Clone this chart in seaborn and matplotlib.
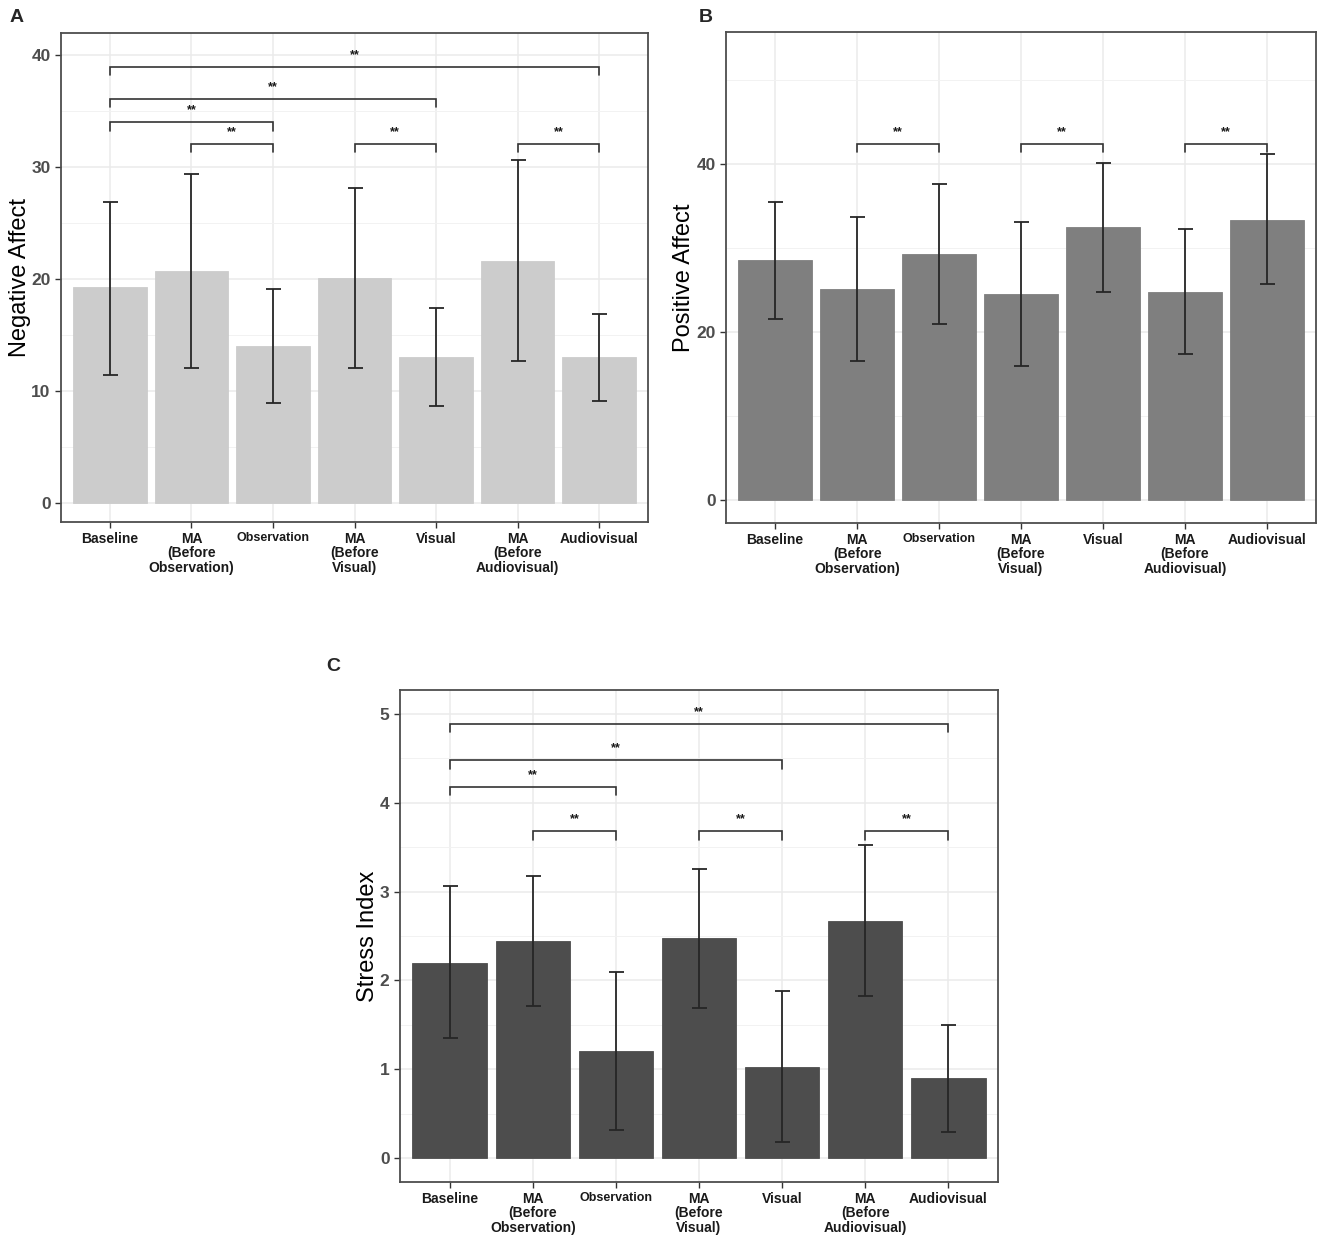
import numpy as np
import seaborn as sns
import matplotlib.pyplot as plt
from matplotlib.ticker import MultipleLocator

sns.set_theme(style="white")
plt.rcParams['font.family'] = ['Liberation Sans Narrow', 'Liberation Sans', 'DejaVu Sans']

# categories (x-axis)
conditions = ["Baseline", "MA\n(Before\nObservation)", "Observation",
              "MA\n(Before\nVisual)", "Visual", "MA\n(Before\nAudiovisual)", "Audiovisual"]

# Panel A - Negative affect: mean, lower and upper error
neg_mean = [19.3, 20.7, 14.0, 20.1, 13.0, 21.6, 13.0]
neg_low = [11.4, 12.0, 8.9, 12.0, 8.65, 12.7, 9.07]
neg_high = [26.9, 29.4, 19.1, 28.1, 17.4, 30.6, 16.9]
neg_sig = [(0, 6, 38.97), (0, 4, 36.1), (0, 2, 34.0), (1, 2, 32.1), (3, 4, 32.1), (5, 6, 32.1)]

# Panel B - Positive affect
pos_mean = [28.6, 25.1, 29.3, 24.5, 32.5, 24.8, 33.3]
pos_low = [21.6, 16.6, 20.95, 15.9, 24.8, 17.4, 25.7]
pos_high = [35.5, 33.7, 37.6, 33.1, 40.1, 32.2, 41.2]
pos_sig = [(1, 2, 42.4), (3, 4, 42.4), (5, 6, 42.4)]

# Panel C - Stress index
stress_mean = [2.20, 2.44, 1.20, 2.48, 1.03, 2.67, 0.90]
stress_low = [1.35, 1.71, 0.32, 1.69, 0.18, 1.82, 0.29]
stress_high = [3.06, 3.18, 2.09, 3.26, 1.88, 3.52, 1.50]
stress_sig = [(0, 6, 4.89), (0, 4, 4.48), (0, 2, 4.18), (1, 2, 3.68), (3, 4, 3.68), (5, 6, 3.68)]

W, H = 1325, 1253
fig = plt.figure(figsize=(W / 100, H / 100), dpi=100)


def px_axes(l, t, r, b):
    return fig.add_axes([l / W, 1 - b / H, (r - l) / W, (b - t) / H])


def draw_panel(ax, mean, low, high, color, ylabel, ylim, major, sig, lab_x):
    df = {"cond": conditions, "val": mean}
    ax.set_axisbelow(True)
    sns.barplot(x="cond", y="val", data=df, color=color, width=0.9,
                saturation=1, edgecolor=color, linewidth=0.6, ax=ax)
    m = np.array(mean)
    ax.errorbar(np.arange(len(m)), m, yerr=[m - np.array(low), np.array(high) - m],
                fmt="none", ecolor="#262626", elinewidth=1.3, capsize=5.4, capthick=1.3,
                zorder=5)
    ax.set_xlim(-0.6, 6.6)
    ax.set_ylim(*ylim)
    ax.yaxis.set_major_locator(MultipleLocator(major))
    ax.yaxis.set_minor_locator(MultipleLocator(major / 2))
    ax.grid(which="major", color="#EBEBEB", linewidth=1.1)
    ax.grid(which="minor", axis="y", color="#F2F2F2", linewidth=0.7)
    for s in ax.spines.values():
        s.set_color("#4D4D4D")
        s.set_linewidth(1.3)
    ax.tick_params(axis="both", which="major", length=4, width=1, color="#333333",
                   direction="out", bottom=True, left=True)
    ax.tick_params(axis="y", labelsize=12.5, labelcolor="#4D4D4D")
    ax.tick_params(axis="x", labelsize=10, labelcolor="#1A1A1A", pad=3)
    ax.tick_params(which="minor", length=0)
    for t in ax.get_yticklabels():
        t.set_fontweight("bold")
    for t in ax.get_xticklabels():
        t.set_fontweight("bold")
        t.set_linespacing(1.05)
        t.set_verticalalignment("top")
        if t.get_text() == "Observation":
            t.set_fontsize(9)
    ax.set_xlabel("")
    ax.set_ylabel(ylabel, fontsize=17, color="black",
                  family=["Liberation Sans", "DejaVu Sans"])
    ax.yaxis.set_label_coords(lab_x, 0.5)
    rng = ylim[1] - ylim[0]
    tip = 0.017 * rng
    for i, j, h in sig:
        ax.plot([i, i, j, j], [h - tip, h, h, h - tip], color="#333333", lw=1.2,
                solid_joinstyle="miter", zorder=6)
        ax.text((i + j) / 2, h + 0.012 * rng, "**", ha="center", va="bottom",
                fontsize=9, fontweight="bold", color="#1A1A1A")


axA = px_axes(61, 33, 648, 522)
draw_panel(axA, neg_mean, neg_low, neg_high, "#CCCCCC", "Negative Affect",
           (-1.73, 42.0), 10, neg_sig, -0.051)
axB = px_axes(726, 32, 1316, 523)
draw_panel(axB, pos_mean, pos_low, pos_high, "#7F7F7F", "Positive Affect",
           (-2.74, 55.7), 20, pos_sig, -0.053)
axC = px_axes(400, 690, 998, 1182)
draw_panel(axC, stress_mean, stress_low, stress_high, "#4D4D4D", "Stress Index",
           (-0.27, 5.27), 1, stress_sig, -0.035)

# panel letters
for x, y, s in [(17, 17, "A"), (706, 17, "B"), (333, 667, "C")]:
    fig.text(x / W, 1 - y / H, s, fontsize=14, fontweight="bold",
             family=["Liberation Sans", "DejaVu Sans"], ha="center", va="center")

fig.savefig("out.png", dpi=100)
